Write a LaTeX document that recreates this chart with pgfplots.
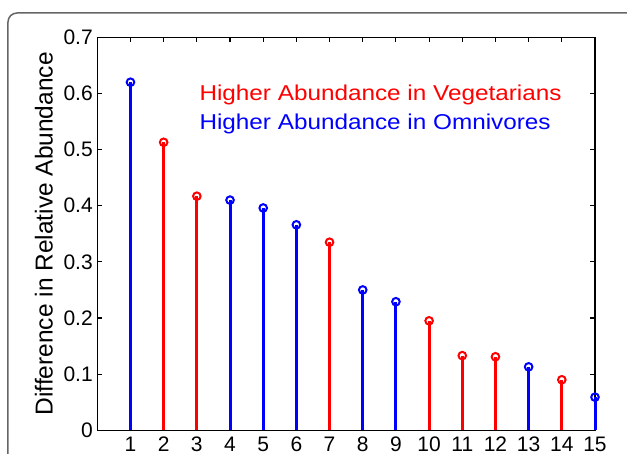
\documentclass[border=0pt]{standalone}
\usepackage{pgfplots}
\pgfplotsset{compat=1.18}
\usepackage{fontspec}
\setmainfont{Liberation Sans}
\definecolor{mblue}{RGB}{0,0,255}
\definecolor{mred}{RGB}{255,0,0}
\begin{document}
\begin{tikzpicture}
\path[use as bounding box] (-97.3pt,-23.7pt) rectangle (529.7pt,430.3pt);
\draw[line width=1.5pt, color=black!60, rounded corners=9pt] (-89.3pt,-80pt) rectangle (580pt,417.3pt);
\begin{axis}[
  at={(0pt,0pt)}, anchor=south west,
  scale only axis, width=497.7pt, height=393pt,
  xmin=0, xmax=15, ymin=0, ymax=0.7,
  xtick={1,2,3,4,5,6,7,8,9,10,11,12,13,14,15},
  xticklabels={1,2,3,4,5,6,7,8,9,10,11,12,13,14,15},
  ytick={0,0.1,0.2,0.3,0.4,0.5,0.6,0.7},
  yticklabels={0,0.1,0.2,0.3,0.4,0.5,0.6,0.7},
  tick align=inside, major tick length=5pt,
  axis line style={line width=1.2pt},
  every tick/.style={line width=1.1pt, black},
  ticklabel style={font=\fontsize{21}{21}\selectfont},
  xticklabel style={yshift=-3pt},
  yticklabel style={xshift=-1pt},
  ylabel={Difference in Relative Abundance},
  every axis y label/.style={at={(axis description cs:0,0.5)}, xshift=-44.6pt, anchor=base, rotate=90, font=\fontsize{24.5}{24.5}\selectfont},
  clip=false,
]
\addplot[ycomb, mblue, line width=3pt, mark=o, mark size=3.8pt, mark options={line width=2pt, fill=white, solid}] coordinates {
 (1,0.620) (4,0.410) (5,0.396) (6,0.366) (8,0.250) (9,0.229) (13,0.113) (15,0.059)
};
\addplot[ycomb, mred, line width=3pt, mark=o, mark size=3.8pt, mark options={line width=2pt, fill=white, solid}] coordinates {
 (2,0.513) (3,0.417) (7,0.335) (10,0.195) (11,0.133) (12,0.131) (14,0.090)
};
\node[anchor=base west, inner sep=0pt, mred, font=\fontsize{21.5}{21.5}\selectfont, xscale=1.13] at (axis cs:3.074,0.587) {Higher Abundance in Vegetarians};
\node[anchor=base west, inner sep=0pt, mblue, font=\fontsize{21.5}{21.5}\selectfont, xscale=1.13] at (axis cs:3.074,0.535) {Higher Abundance in Omnivores};
\end{axis}
\end{tikzpicture}
\end{document}
